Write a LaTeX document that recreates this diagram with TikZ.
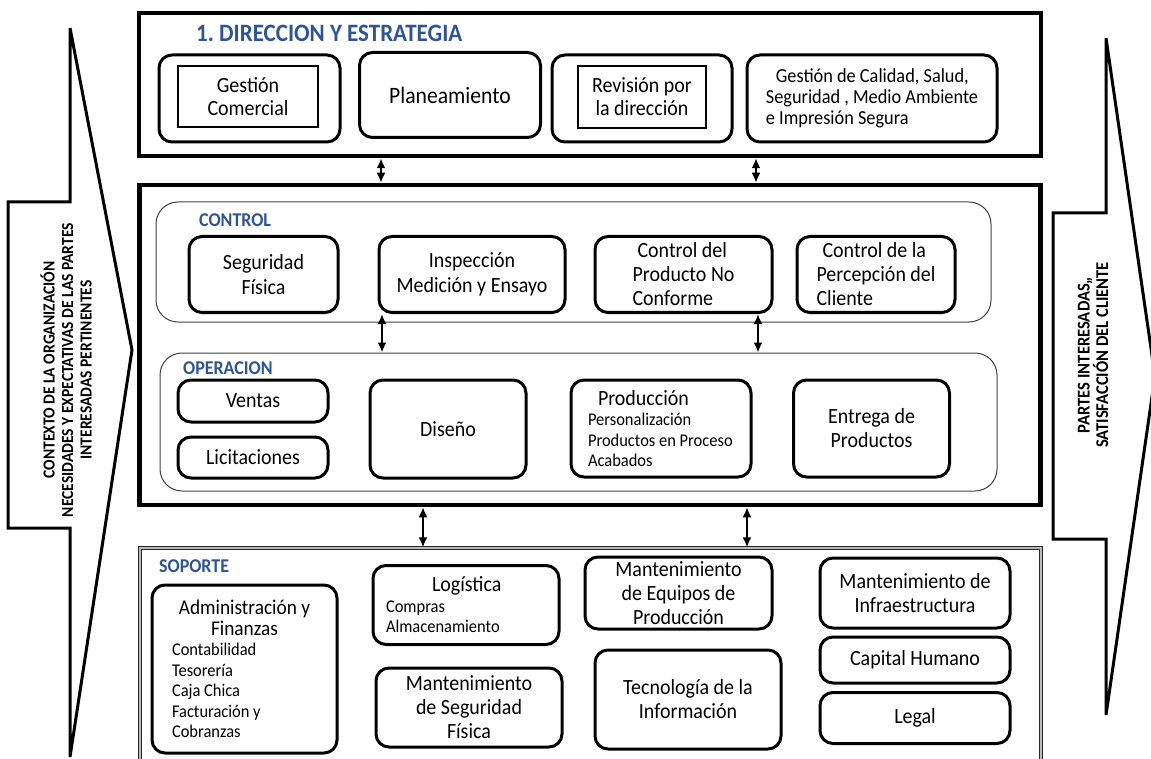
\documentclass[tikz,border=0pt]{standalone}
\usepackage{fontspec}
\setmainfont{Carlito}[FakeStretch=0.92]
\usetikzlibrary{arrows.meta}
\definecolor{titleblue}{RGB}{47,84,150}
\tikzset{
 outerframe/.style={draw=black, line width=4.5pt, inner sep=0pt},
 grp/.style={draw=black!75, line width=1pt, rounded corners=22pt, inner sep=0pt},
 rbox/.style={draw=black, line width=3pt, rounded corners=13pt, inner sep=0pt, align=center, font=\fontsize{21.7}{24}\selectfont},
 ibox/.style={draw=black, line width=1.3pt, inner sep=0pt, align=center, font=\fontsize{21.7}{23}\selectfont},
 hdr/.style={text=titleblue, font=\bfseries\fontsize{19.5}{20}\selectfont, anchor=west, inner sep=0pt},
 dbl/.style={line width=2.8pt, {Latex[length=10pt,width=9pt]}-{Latex[length=10pt,width=9pt]}},
 sidearrow/.style={draw=black, line width=3pt, line join=miter},
 sidetext/.style={rotate=90, align=center, font=\bfseries\fontsize{16.9}{18.5}\selectfont, inner sep=0pt},
}
\newcommand\bigtxt{\fontsize{21.7}{22}\selectfont}
\newcommand\smalltxt{\fontsize{17.9}{20.5}\selectfont}
\begin{document}
\frenchspacing
\begin{tikzpicture}[x=1pt,y=-1pt]
\useasboundingbox (0,0) rectangle (1151,759);
\clip (0,0) rectangle (1151,759);
% side arrows
\draw[sidearrow] (70,28) -- (132,350) -- (70,757) -- (70,528) -- (8,528) -- (8,202) -- (70,202) -- cycle;
\draw[sidearrow] (1106,38) -- (1155,376) -- (1106,715) -- (1106,539) -- (1053,539) -- (1053,213) -- (1106,213) -- cycle;
\node[sidetext] (ctx) at (66,370) {CONTEXTO DE LA ORGANIZACIÓN\\NECESIDADES Y EXPECTATIVAS DE LAS PARTES\\INTERESADAS PERTINENTES};
\node[sidetext, font=\bfseries\fontsize{18}{18.5}\selectfont] (pi) at (1093,355) {PARTES INTERESADAS,,\\SATISFACCIÓN DEL CLIENTE};

% 1. Direccion
\node[outerframe, minimum width=902pt, minimum height=143pt] (dir) at (590,84.5) {};
\node[hdr, font=\bfseries\fontsize{25}{26}\selectfont] (tdir) at (196,33) {1. DIRECCION Y ESTRATEGIA};
\node[rbox, minimum width=181pt, minimum height=87pt] (gc) at (249.5,98.5) {};
\node[ibox, minimum width=140pt, minimum height=61pt] (gci) at (248,96.5) {Gestión\\Comercial};
\node[rbox, minimum width=181pt, minimum height=85pt, font=\fontsize{23.5}{24}\selectfont] (pl) at (450,95) {Planeamiento};
\node[rbox, minimum width=180pt, minimum height=87pt] (rv) at (642,98.5) {};
\node[ibox, minimum width=128pt, minimum height=62pt] (rvi) at (642,97) {Revisión por\\la dirección};
\node[rbox, minimum width=250pt, minimum height=87pt, align=left, font=\fontsize{19.9}{20.8}\selectfont] (gq) at (872,98.5) {\hspace*{10pt}Gestión de Calidad, Salud,\\Seguridad , Medio Ambiente\\e Impresión Segura};

% middle frame
\node[outerframe, minimum width=901pt, minimum height=320pt] (mid) at (590,345) {};
\node[grp, minimum width=835pt, minimum height=120pt] (ctl) at (573.5,262) {};
\node[hdr] (tctl) at (199,220) {CONTROL};
\node[rbox, minimum width=149pt, minimum height=76pt, font=\fontsize{21.7}{25}\selectfont] (sf) at (263.5,274.5) {Seguridad\\Física};
\node[rbox, minimum width=186pt, minimum height=76pt, font=\fontsize{21.7}{25}\selectfont] (ins) at (472,274.5) {Inspección\\Medición y Ensayo};
\node[rbox, minimum width=177pt, minimum height=76pt, align=left, font=\fontsize{21.7}{24}\selectfont] (cpn) at (683.5,274.5) {\hspace*{5pt}Control del\\Producto No\\Conforme};
\node[rbox, minimum width=158pt, minimum height=76pt, align=left, font=\fontsize{21.7}{24}\selectfont] (cpc) at (876,274.5) {\hspace*{6pt}Control de la\\Percepción del\\Cliente};

\node[grp, minimum width=837pt, minimum height=138pt] (opg) at (578.5,422) {};
\node[hdr] (top) at (183,368) {OPERACION};
\node[rbox, minimum width=150pt, minimum height=42pt] (ven) at (253,401) {Ventas};
\node[rbox, minimum width=150pt, minimum height=41pt] (lic) at (253,457.5) {Licitaciones};
\node[rbox, minimum width=156pt, minimum height=98pt] (dis) at (448,429) {Diseño};
\node[rbox, minimum width=180pt, minimum height=97pt] (pro) at (661,428.5) {\parbox{146pt}{\raggedright{\bigtxt\hspace*{10pt}Producción\par}{\smalltxt Personalización\\Productos en Proceso\\Acabados\par}}};
\node[rbox, minimum width=156pt, minimum height=97pt] (ent) at (871.5,428.5) {Entrega de\\Productos};

% soporte
\node[draw=black!85, line width=1.2pt, double=gray!55, double distance=1.6pt, minimum width=901pt, minimum height=240pt, inner sep=0pt] (sop) at (590.5,668) {};
\node[hdr] (tsop) at (159,566) {SOPORTE};
\node[rbox, minimum width=185pt, minimum height=168pt] (adm) at (244.5,669) {\parbox{165pt}{{\centering\fontsize{21}{21}\selectfont Administración y\\Finanzas\par}{\raggedright\smalltxt\hspace*{10pt}Contabilidad\\\hspace*{10pt}Tesorería\\\hspace*{10pt}Caja Chica\\\hspace*{10pt}Facturación y\\\hspace*{10pt}Cobranzas\par}}};
\node[rbox, minimum width=186pt, minimum height=79pt] (log) at (466,605) {\parbox{160pt}{\raggedright{\bigtxt\hspace*{46pt}Logística\par}{\smalltxt Compras\\Almacenamiento\par}}};
\node[rbox, minimum width=186pt, minimum height=79pt] (msf) at (469,707.5) {Mantenimiento\\de Seguridad\\Física};
\node[rbox, minimum width=187pt, minimum height=72pt] (meq) at (678.5,593) {Mantenimiento\\de Equipos de\\Producción};
\node[rbox, minimum width=186pt, minimum height=99pt] (tec) at (688,699.5) {Tecnología de la\\Información};
\node[rbox, minimum width=190pt, minimum height=70pt] (mif) at (915,593) {Mantenimiento de\\Infraestructura};
\node[rbox, minimum width=190pt, minimum height=46pt] (cap) at (915,660) {Capital Humano};
\node[rbox, minimum width=190pt, minimum height=51pt] (leg) at (915,718) {Legal};

% connectors
\coordinate (c1) at (381,0);
\coordinate (c2) at (756,0);
\coordinate (c3) at (382,0);
\coordinate (c4) at (758,0);
\coordinate (c5) at (423,0);
\coordinate (c6) at (747,0);
\draw[dbl] (dir.south -| c1) -- (mid.north -| c1);
\draw[dbl] (dir.south -| c2) -- (mid.north -| c2);
\draw[dbl] (ins.south -| c3) -- (opg.north -| c3);
\draw[dbl] (cpn.south -| c4) -- (opg.north -| c4);
\draw[dbl] (mid.south -| c5) -- (sop.north -| c5);
\draw[dbl] (mid.south -| c6) -- (sop.north -| c6);
\end{tikzpicture}
\end{document}
